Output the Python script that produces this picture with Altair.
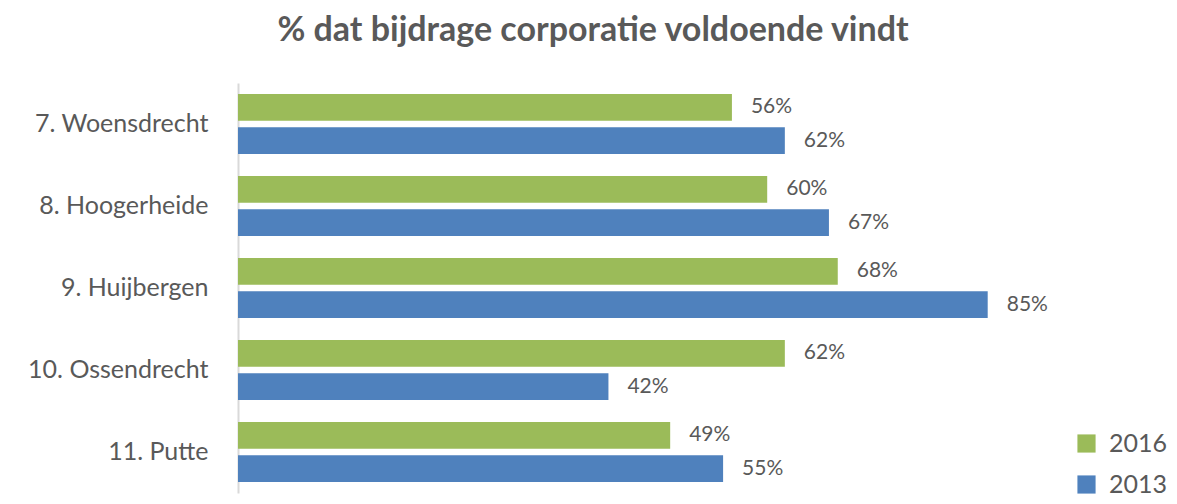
import altair as alt
import pandas as pd

categories = ["7. Woensdrecht", "8. Hoogerheide", "9. Huijbergen", "10. Ossendrecht", "11. Putte"]
values_2016 = [0.56, 0.60, 0.68, 0.62, 0.49]
values_2013 = [0.62, 0.67, 0.85, 0.42, 0.55]
years = ["2016", "2013"]
colors = ["#9BBB59", "#4F81BD"]

rows = []
for c, v16, v13 in zip(categories, values_2016, values_2013):
    rows.append({"cat": c, "year": "2016", "val": v16})
    rows.append({"cat": c, "year": "2013", "val": v13})
df = pd.DataFrame(rows)

FONT = "Lato"
GREY = "#595959"

y_enc = alt.Y("cat:N", sort=categories, title=None,
              scale=alt.Scale(paddingInner=0.27, paddingOuter=0.135),
              axis=alt.Axis(labelFontSize=25, labelColor=GREY, labelFont=FONT,
                            ticks=False, domainColor="#D9D9D9", domainWidth=2,
                            labelPadding=30, minExtent=230, maxExtent=230,
                            labelLimit=300))
yoff = alt.YOffset("year:N", sort=years, scale=alt.Scale(paddingInner=0.2, paddingOuter=0))
x_enc = alt.X("val:Q", scale=alt.Scale(domain=[0, 1]), axis=None)

bars = alt.Chart(df).mark_bar().encode(
    x=x_enc, y=y_enc, yOffset=yoff,
    color=alt.Color("year:N", sort=years,
                    scale=alt.Scale(domain=years, range=colors),
                    legend=alt.Legend(title=None, orient="none", legendX=836, legendY=348,
                                      symbolType="square", symbolSize=330,
                                      symbolStrokeWidth=0, labelFontSize=25,
                                      labelColor=GREY, labelFont=FONT,
                                      rowPadding=15, labelOffset=10))
)

labels = alt.Chart(df).mark_text(align="left", baseline="middle", dx=19,
                                 fontSize=21, color=GREY, font=FONT).encode(
    x=x_enc, y=y_enc, yOffset=yoff,
    text=alt.Text("val:Q", format=".0%")
)

chart = (bars + labels).properties(
    width=882, height=410,
    padding={"top": 6, "left": 0, "right": 0, "bottom": 0},
    title=alt.Title("% dat bijdrage corporatie voldoende vindt", fontSize=34,
                    fontWeight="bold", color=GREY, font=FONT, offset=35,
                    anchor="middle", dx=-86)
).configure_view(stroke=None)

chart.save("out.html", embed_options={"renderer": "svg", "actions": False})
